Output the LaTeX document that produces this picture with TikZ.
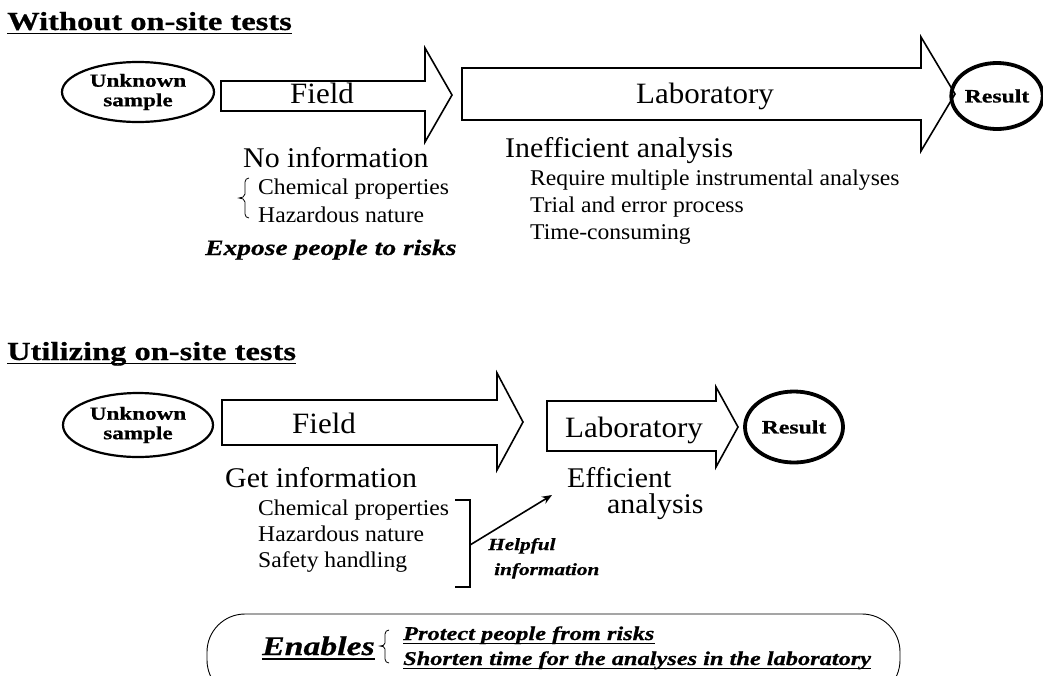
\documentclass[tikz,border=0pt]{standalone}
\usepackage{fontspec}
\setmainfont{Liberation Serif}[FakeStretch=1.05]
\newfontfamily\widefont{Liberation Serif}[FakeStretch=1.25, FakeBold=0.6]
\usetikzlibrary{positioning, arrows.meta, calc, shapes.geometric}

\begin{document}
\begin{tikzpicture}[
        x=1pt, y=-1pt,
        sample/.style={ellipse, draw, line width=2.2pt, inner sep=0pt, align=center,
                       font=\widefont\bfseries\fontsize{18.5}{19.5}\selectfont},
        result/.style={ellipse, draw, line width=3.8pt, inner sep=0pt,
                       font=\widefont\bfseries\fontsize{19}{20}\selectfont},
        blk/.style={draw, line width=1.6pt, line join=miter},
        stage/.style={anchor=base, inner sep=0pt, font=\fontsize{29.5}{30}\selectfont},
        big/.style={anchor=base west, inner sep=0pt, font=\fontsize{28.5}{30}\selectfont},
        item/.style={anchor=base west, inner sep=0pt, font=\fontsize{22.5}{24}\selectfont},
        title/.style={anchor=base west, inner sep=0pt, font=\widefont\bfseries\fontsize{26}{28}\selectfont},
        note/.style={anchor=base west, inner sep=0pt, font=\widefont\bfseries\itshape\fontsize{22}{24}\selectfont},
        uline/.style={line width=1.4pt},
        arrow/.style={-{Stealth[length=10pt, width=8pt]}, line width=1.6pt}
      ]
        \useasboundingbox (0,0) rectangle (1043,675);

        % without on-site tests
        \node[title] (title1) at (7,30) {Without on-site tests};
        \draw[uline] ($(title1.base west)+(0,3.5)$) -- ($(title1.base east)+(0,3.5)$);

        \node[sample, minimum width=152pt, minimum height=60pt] (sample1) at (138,92) {Unknown\\sample};
        \draw[blk] (221,81) -- (425,81) -- (425,48) -- (452,95) -- (425,142) -- (425,111) -- (221,111) -- cycle;
        \node[stage] (field1) at (322,103) {Field};
        \draw[blk] (462,68) -- (921,68) -- (921,37) -- (955,94) -- (921,151) -- (921,120) -- (462,120) -- cycle;
        \node[stage] (lab1) at (705,103) {Laboratory};
        \node[result, minimum width=86pt, minimum height=66pt] (result1) at (997,96) {Result};

        \node[big] (noinfo) at (243,167) {No information};
        \draw[line width=0.8pt] (249,178) to[out=180, in=90] (245,182) -- (245,194)
              to[out=-90, in=0] (239,198) to[out=0, in=90] (245,202) -- (245,214)
              to[out=-90, in=180] (249,218);
        \node[item] (chem1) at (258,194) {Chemical properties};
        \node[item] (haz1) at (258,222) {Hazardous nature};
        \node[note] (expose) at (205,255) {Expose people to risks};

        \node[big] (ineff) at (505,157) {Inefficient analysis};
        \node[item] (multi) at (530,185) {Require multiple instrumental analyses};
        \node[item] (trial) at (530,212) {Trial and error process};
        \node[item] (time) at (530,239) {Time-consuming};

        % utilizing on-site tests
        \node[title] (title2) at (7,360) {Utilizing on-site tests};
        \draw[uline] ($(title2.base west)+(0,3.5)$) -- ($(title2.base east)+(0,3.5)$);

        \node[sample, minimum width=150pt, minimum height=64pt] (sample2) at (138,425) {Unknown\\sample};
        \draw[blk] (222,400) -- (497,400) -- (497,373) -- (523,422) -- (497,470) -- (497,445) -- (222,445) -- cycle;
        \node[stage] (field2) at (324,433) {Field};
        \draw[blk] (547,401) -- (716,401) -- (716,387) -- (738,427) -- (716,467) -- (716,451) -- (547,451) -- cycle;
        \node[stage] (lab2) at (634,437) {Laboratory};
        \node[result, minimum width=98pt, minimum height=71pt] (result2) at (794,427) {Result};

        \node[big] (getinfo) at (225,487) {Get information};
        \node[big] (eff) at (567,487) {Efficient};
        \node[big] (effan) at (607,513) {analysis};
        \node[item] (chem2) at (258,515) {Chemical properties};
        \node[item] (haz2) at (258,541) {Hazardous nature};
        \node[item] (safe) at (258,567) {Safety handling};

        \draw[line width=1.2pt] (455,500) -- (470,500) -- (470,587) -- (455,587);
        \coordinate (brk) at (470,545);
        \coordinate (efftip) at (552,495);
        \draw[arrow] (brk) -- (efftip);
        \node[note, font=\widefont\bfseries\itshape\fontsize{17}{18}\selectfont] (helpful) at (488,550) {Helpful};
        \node[note, font=\widefont\bfseries\itshape\fontsize{17}{18}\selectfont] (helpinfo) at (494,575) {information};

        % what it enables
        \draw[line width=0.9pt, rounded corners=38pt] (207,614) rectangle (900,698);
        \node[note, font=\widefont\bfseries\itshape\fontsize{27}{28}\selectfont] (enables) at (262,655) {Enables};
        \draw[uline] ($(enables.base west)+(0,4)$) -- ($(enables.base east)+(0,4)$);
        \draw[line width=0.8pt] (389,630) to[out=180, in=90] (385,634) -- (385,643)
              to[out=-90, in=0] (380,646) to[out=0, in=90] (385,649) -- (385,659)
              to[out=-90, in=180] (389,663);
        \node[note, font=\widefont\bfseries\itshape\fontsize{19.5}{20}\selectfont] (protect) at (403,640) {Protect people from risks};
        \draw[uline, line width=1pt] ($(protect.base west)+(0,3)$) -- ($(protect.base east)+(0,3)$);
        \node[note, font=\widefont\bfseries\itshape\fontsize{19.5}{20}\selectfont] (shorten) at (403,665) {Shorten time for the analyses in the laboratory};
        \draw[uline, line width=1pt] ($(shorten.base west)+(0,3)$) -- ($(shorten.base east)+(0,3)$);
      \end{tikzpicture}
\end{document}
